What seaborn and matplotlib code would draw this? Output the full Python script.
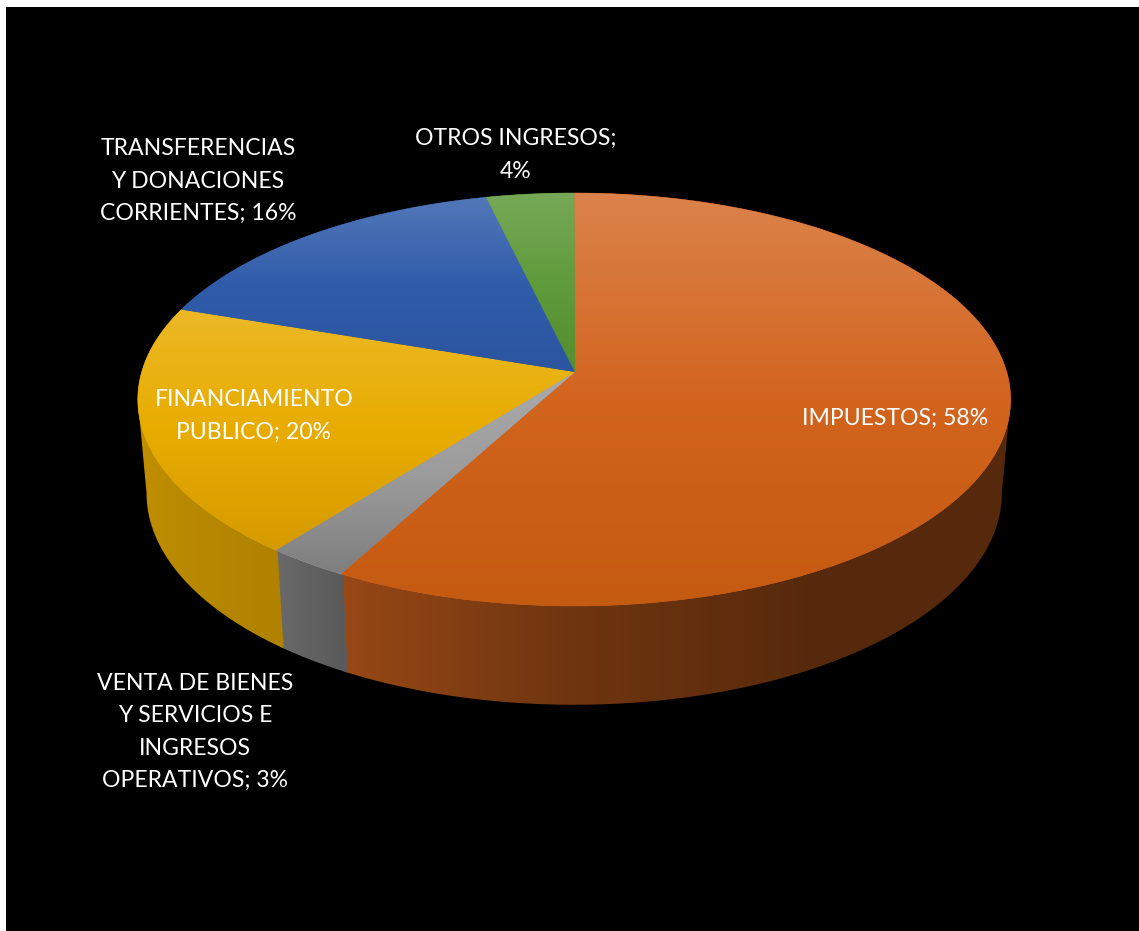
import numpy as np
import matplotlib
matplotlib.use("Agg")
import matplotlib.pyplot as plt
from matplotlib.patches import Polygon
import seaborn as sns

# ---- data ----
categories = ["IMPUESTOS", "VENTA DE BIENES Y SERVICIOS E INGRESOS OPERATIVOS",
              "FINANCIAMIENTO PUBLICO", "TRANSFERENCIAS Y DONACIONES CORRIENTES",
              "OTROS INGRESOS"]
values = [57.9, 2.7, 19.6, 16.1, 3.7]
labels = ["IMPUESTOS; 58%", "VENTA DE BIENES\nY SERVICIOS E\nINGRESOS\nOPERATIVOS; 3%",
          "FINANCIAMIENTO\nPUBLICO; 20%", "TRANSFERENCIAS\nY DONACIONES\nCORRIENTES; 16%",
          "OTROS INGRESOS;\n4%"]
base_colors = ["#D2641E", "#9C9C9C", "#E8AC00", "#305CAA", "#609B3C"]
low_colors = ["#C55A11", "#7E7E7E", "#D69A00", "#2C55A0", "#548E2E"]
tints = [.20, .15, .15, .17, .14]

W, H = 1139, 931
label_pos = [(895, 418), (195, 732), (254, 416), (198, 181), (516, 155)]

sns.set_theme(style="dark")
plt.rcParams["font.family"] = ["Lato", "DejaVu Sans"]

fig = plt.figure(figsize=(W / 100, H / 100), dpi=100, facecolor="white")
ax = fig.add_axes([6 / W, 0, (W - 6) / W, (H - 7) / H], facecolor="black")
sns.despine(ax=ax, left=True, bottom=True)
ax.set_xticks([])
ax.set_yticks([])
ax.grid(False)

# perspective projection of the pie's circle
CX, CY, APEX = 574.2, 372.0, 575.0
PC, PE, PD = -0.133, 202.8, 432.5
BOT_S, BOT_SY, BOT_Y = 0.98, 1.025, 465.0
WIDEST = np.degrees(np.arccos(PC))   # angle of the widest point on the right
SEAM = 0.3                           # overlap of side walls, degrees


def top_edge(deg):
    t = np.radians(deg)
    u, v = np.sin(t), -np.cos(t)
    w = 1 + PC * v
    return CX + PD * u / w, CY + PE * v / w


def bottom_edge(deg):
    t = np.radians(deg)
    u, v = np.sin(t), -np.cos(t)
    w = 1 + PC * v
    return CX + BOT_S * PD * u / w, BOT_Y + BOT_SY * PE * v / w


palette = sns.color_palette(base_colors)
lows = sns.color_palette(low_colors)
shares = np.array(values) / np.sum(values) * 360
ends = np.cumsum(shares)
starts = ends - shares

# brightness of the side wall (angle -> factor), per slice
side_stops = {
    0: ([WIDEST, 150, 180, 209], [.41, .41, .53, .73]),
    1: ([starts[1], ends[1]], [.58, .68]),
    2: ([starts[2], ends[2]], [.76, .90]),
}

xs_grid = np.arange(6, W + 1.0)
ys = np.arange(7, H + 1.0)

# side wall: clipped horizontal gradients; the part running to the centre is
# hidden under the top face
for i, (stop_a, stop_f) in side_stops.items():
    a0 = max(starts[i] - SEAM, WIDEST)
    a1 = min(ends[i] + SEAM, 360 - WIDEST)
    angles = np.linspace(a0, a1, 300)
    tx, ty = top_edge(angles)
    bx, by = bottom_edge(angles)
    verts = np.column_stack([np.r_[APEX, tx[0], bx, tx[-1]], np.r_[CY, ty[0], by, ty[-1]]])
    order = np.argsort(tx)
    fac = np.interp(angles, stop_a, stop_f)
    f_x = np.interp(xs_grid, tx[order], fac[order])
    img = np.clip((np.array(palette[i]) * f_x[:, None])[None, :, :], 0, 1)
    poly = Polygon(verts, closed=True, transform=ax.transData, fc="none", ec="none")
    ax.add_patch(poly)
    im = ax.imshow(img, extent=(5.5, W + 0.5, H, 7), aspect="auto",
                   interpolation="bilinear", zorder=1)
    im.set_clip_path(poly)

# top faces: vertical gradient over each slice's own height
for i in range(len(values)):
    angles = np.linspace(starts[i], ends[i], 300)
    xs, yy = top_edge(angles)
    verts = np.column_stack([np.r_[APEX, xs], np.r_[CY, yy]])
    top, bot = verts[:, 1].min(), verts[:, 1].max()
    mid = (top + bot) / 2
    base, low = np.array(palette[i]), np.array(lows[i])
    t = np.interp(ys, [mid, bot], [0, 1])[:, None]
    w = np.interp(ys, [top, mid], [tints[i], 0])[:, None]
    col = (base * (1 - t) + low * t) * (1 - w) + w
    ax.fill(verts[:, 0], verts[:, 1], color=tuple(base), lw=0.4, zorder=2)
    poly = Polygon(verts, closed=True, transform=ax.transData, fc="none", ec="none")
    ax.add_patch(poly)
    im = ax.imshow(col[:, None, :], extent=(6, W, H + 0.5, 6.5), aspect="auto",
                   interpolation="bilinear", zorder=2.5)
    im.set_clip_path(poly)

for (x, y), lab in zip(label_pos, labels):
    ax.text(x, y, lab, color="white", fontsize=16.6, ha="center", va="center",
            linespacing=1.68, zorder=3)

ax.set_xlim(6, W)
ax.set_ylim(H, 7)
fig.savefig("out.png", dpi=100, facecolor="white")
